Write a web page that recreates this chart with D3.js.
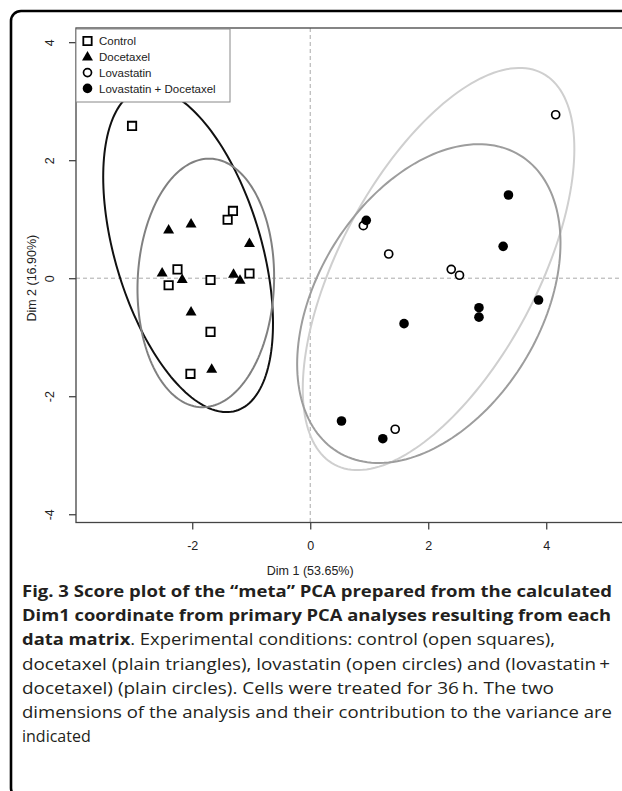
<!DOCTYPE html>
<html><head><meta charset="utf-8">
<script src="https://cdn.jsdelivr.net/npm/d3@7"></script>
<style>body{margin:0;background:#fff}svg{display:block}</style>
</head><body>
<svg id="c" width="622" height="791"></svg>
<script>
// ---- data ----
const groups = ["Control", "Docetaxel", "Lovastatin", "Lovastatin + Docetaxel"];
const controlX = [-3.02, -1.31, -1.40, -2.25, -2.40, -1.69, -1.03, -1.69, -2.03];
const controlY = [2.58, 1.14, 0.99, 0.15, -0.12, -0.03, 0.08, -0.91, -1.62];
const docetaxelX = [-2.40, -2.02, -1.03, -2.51, -2.17, -1.30, -1.19, -2.02, -1.67];
const docetaxelY = [0.82, 0.92, 0.59, 0.09, -0.02, 0.07, -0.03, -0.57, -1.54];
const lovastatinX = [4.16, 0.90, 1.33, 2.39, 2.53, 1.44];
const lovastatinY = [2.77, 0.89, 0.41, 0.15, 0.05, -2.56];
const lovaDoceX = [3.36, 0.95, 3.27, 3.87, 2.86, 2.86, 1.59, 0.53, 1.23];
const lovaDoceY = [1.41, 0.98, 0.54, -0.37, -0.50, -0.66, -0.77, -2.42, -2.72];
// confidence ellipses (center, semi-axes, rotation in degrees)
const ellipseCx = [-2.07, -1.77, 2.175, 2.01];
const ellipseCy = [0.475, -0.08, 0.156, -0.43];
const ellipseA = [2.84, 2.107, 3.755, 2.95];
const ellipseB = [1.24, 1.156, 1.676, 1.89];
const ellipseAngle = [-73.4, 87.8, 62.0, 58.4];
const xTicks = [-2, 0, 2, 4];
const yTicks = [-4, -2, 0, 2, 4];
const xTitle = "Dim 1 (53.65%)";
const yTitle = "Dim 2 (16.90%)";

const ellipseColors = ["#111111", "#808080", "#cfcfcf", "#9d9d9d"];

const svg = d3.select("#c");
const x = d3.scaleLinear().domain([-3.97, 5.5]).range([76, 76 + 9.47 * 59]);
const y = d3.scaleLinear().domain([-4.14, 4.24]).range([522.5, 28]);

// outer frame
svg.append("rect").attr("x", 11).attr("y", 11).attr("width", 660).attr("height", 787)
  .attr("rx", 10).attr("fill", "none").attr("stroke", "#000").attr("stroke-width", 2.6);

// reference lines
svg.append("line").attr("x1", x(-3.97)).attr("x2", 640).attr("y1", y(0)).attr("y2", y(0))
  .attr("stroke", "#aaa").attr("stroke-dasharray", "4,3").attr("stroke-width", 1);
svg.append("line").attr("x1", x(0)).attr("x2", x(0)).attr("y1", y(4.24)).attr("y2", y(-4.14))
  .attr("stroke", "#aaa").attr("stroke-dasharray", "4,3").attr("stroke-width", 1);

// ellipses
const tSteps = d3.range(0, 361, 2).map(d => d * Math.PI / 180);
groups.forEach((g, i) => {
  const phi = ellipseAngle[i] * Math.PI / 180;
  const pts = tSteps.map(t => [
    ellipseCx[i] + ellipseA[i] * Math.cos(phi) * Math.cos(t) - ellipseB[i] * Math.sin(phi) * Math.sin(t),
    ellipseCy[i] + ellipseA[i] * Math.sin(phi) * Math.cos(t) + ellipseB[i] * Math.cos(phi) * Math.sin(t)
  ]);
  svg.append("path").datum(pts)
    .attr("d", d3.line().x(d => x(d[0])).y(d => y(d[1])).curve(d3.curveLinearClosed))
    .attr("fill", "none").attr("stroke", ellipseColors[i]).attr("stroke-width", 2);
});

// points
const sq = d3.symbol().type(d3.symbolSquare).size(70);
const tri = d3.symbol().type(d3.symbolTriangle).size(52);
svg.append("g").selectAll("path").data(controlX.map((v, i) => [v, controlY[i]])).join("path")
  .attr("d", sq).attr("transform", d => `translate(${x(d[0])},${y(d[1])})`)
  .attr("fill", "#fff").attr("stroke", "#000").attr("stroke-width", 1.8);
svg.append("g").selectAll("path").data(docetaxelX.map((v, i) => [v, docetaxelY[i]])).join("path")
  .attr("d", tri).attr("transform", d => `translate(${x(d[0])},${y(d[1]) + 0.5})`)
  .attr("fill", "#000");
svg.append("g").selectAll("circle").data(lovastatinX.map((v, i) => [v, lovastatinY[i]])).join("circle")
  .attr("cx", d => x(d[0])).attr("cy", d => y(d[1])).attr("r", 4)
  .attr("fill", "#fff").attr("stroke", "#000").attr("stroke-width", 1.7);
svg.append("g").selectAll("circle").data(lovaDoceX.map((v, i) => [v, lovaDoceY[i]])).join("circle")
  .attr("cx", d => x(d[0])).attr("cy", d => y(d[1])).attr("r", 4.8)
  .attr("fill", "#000");

// plot box
svg.append("rect").attr("x", 76).attr("y", 28).attr("width", 620).attr("height", 494.5)
  .attr("fill", "none").attr("stroke", "#444").attr("stroke-width", 1.3);

// axes
const axFont = "'Liberation Sans', Arial, sans-serif";
const gx = svg.append("g").attr("transform", "translate(0,522.5)")
  .call(d3.axisBottom(x).tickValues(xTicks).tickSize(7).tickPadding(12).tickFormat(d3.format("d")));
gx.select(".domain").remove();
gx.selectAll("line").attr("stroke", "#444").attr("stroke-width", 1.3);
gx.selectAll("text").attr("font-family", axFont).attr("font-size", 12.5).attr("fill", "#222")
  .text(d => d < 0 ? "-" + Math.abs(d) : d);

const gy = svg.append("g").attr("transform", "translate(76,0)")
  .call(d3.axisLeft(y).tickValues(yTicks).tickSize(7).tickFormat(d3.format("d")));
gy.select(".domain").remove();
gy.selectAll("line").attr("stroke", "#444").attr("stroke-width", 1.3);
gy.selectAll("text").attr("font-family", axFont).attr("font-size", 12.5).attr("fill", "#222")
  .attr("transform", "rotate(-90)").attr("x", 0).attr("y", -22).attr("dy", 0)
  .attr("text-anchor", "middle")
  .text(d => d < 0 ? "-" + Math.abs(d) : d);

svg.append("text").attr("x", x(0)).attr("y", 575).attr("text-anchor", "middle")
  .attr("font-family", axFont).attr("font-size", 12.5).attr("fill", "#222").text(xTitle);
svg.append("text").attr("transform", `translate(36,${y(0)}) rotate(-90)`).attr("text-anchor", "middle")
  .attr("font-family", axFont).attr("font-size", 12.5).attr("fill", "#222").text(yTitle);

// legend
const lg = svg.append("g");
lg.append("rect").attr("x", 76).attr("y", 29).attr("width", 154).attr("height", 73)
  .attr("fill", "#fff").attr("stroke", "#888").attr("stroke-width", 1);
groups.forEach((g, i) => {
  const ly = 41 + i * 15.8, lx = 87.5;
  if (i === 0) lg.append("path").attr("d", sq).attr("transform", `translate(${lx},${ly})`)
    .attr("fill", "#fff").attr("stroke", "#000").attr("stroke-width", 1.8);
  if (i === 1) lg.append("path").attr("d", tri).attr("transform", `translate(${lx},${ly + 0.5})`).attr("fill", "#000");
  if (i === 2) lg.append("circle").attr("cx", lx).attr("cy", ly).attr("r", 4)
    .attr("fill", "#fff").attr("stroke", "#000").attr("stroke-width", 1.7);
  if (i === 3) lg.append("circle").attr("cx", lx).attr("cy", ly).attr("r", 4.8).attr("fill", "#000");
  lg.append("text").attr("x", 99).attr("y", ly).attr("dy", "0.36em")
    .attr("font-family", axFont).attr("font-size", 11.5).attr("fill", "#222").text(g);
});

// caption
const capFont = "'Open Sans', 'Noto Sans', sans-serif";
const capLines = [
  {parts: [["Fig. 3 Score plot of the \u201cmeta\u201d PCA prepared from the calculated", 700]], w: 590},
  {parts: [["Dim1 coordinate from primary PCA analyses resulting from each", 700]], w: 589},
  {parts: [["data matrix", 700], [". Experimental conditions: control (open squares),", 400]], w: 533},
  {parts: [["docetaxel (plain triangles), lovastatin (open circles) and (lovastatin\u2009+", 400]], w: 588},
  {parts: [["docetaxel) (plain circles). Cells were treated for 36\u2009h. The two", 400]], w: 532},
  {parts: [["dimensions of the analysis and their contribution to the variance are", 400]], w: 590},
  {parts: [["indicated", 400]], w: null}
];
capLines.forEach((ln, i) => {
  const t = svg.append("text").attr("x", 22).attr("y", 597 + i * 24.2)
    .attr("font-family", capFont).attr("font-size", 16).attr("fill", "#231f20");
  ln.parts.forEach(p => t.append("tspan").attr("font-weight", p[1]).text(p[0]));
  if (ln.w) t.attr("textLength", ln.w).attr("lengthAdjust", "spacingAndGlyphs");
});
</script>
</body></html>
